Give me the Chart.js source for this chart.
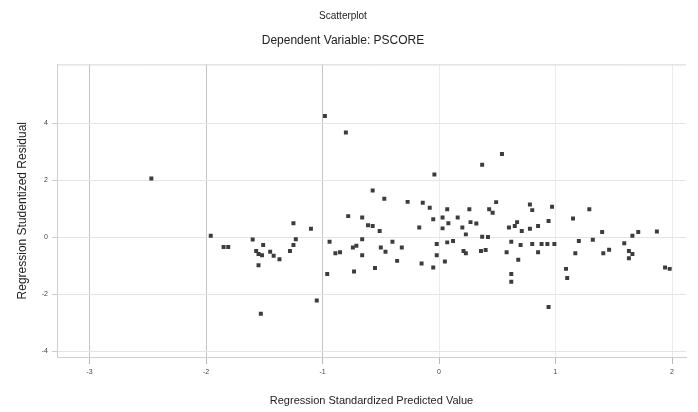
<!DOCTYPE html>
<html>
<head>
<meta charset="utf-8">
<script src="https://cdn.jsdelivr.net/npm/chart.js@4/dist/chart.umd.min.js"></script>
<style>
  html, body { margin: 0; padding: 0; background: #fff; }
</style>
</head>
<body>
<canvas id="scatter" width="698" height="412"></canvas>
<script>
// standardized predicted values (x) and studentized residuals (y)
var predicted = [
    -2.47, -1.96, -1.85, -1.81, -1.60, -1.51, -1.57, -1.55, -1.52, -1.45,
    -1.42, -1.37, -1.55, -1.53, -1.25, -1.23, -1.25, -1.28, -1.10, -1.05,
    -0.98, -0.80, -0.78, -0.94, -0.89, -0.85, -0.96, -0.74, -0.71, -0.66,
    -0.66, -0.73, -0.66, -0.61, -0.57, -0.51, -0.57, -0.55, -0.47, -0.50,
    -0.46, -0.40, -0.36, -0.32, -0.27, -0.17, -0.15, -0.14, -0.08, -0.05,
    -0.05, -0.02, -0.02, -0.04, 0.05, 0.03, 0.03, 0.07, 0.08, 0.07,
    0.12, 0.16, 0.20, 0.23, 0.21, 0.23, 0.26, 0.27, 0.32, 0.37,
    0.36, 0.40, 0.37, 0.42, 0.43, 0.46, 0.49, 0.54, 0.58, 0.60,
    0.65, 0.67, 0.62, 0.62, 0.62, 0.68, 0.70, 0.71, 0.78, 0.80,
    0.78, 0.80, 0.85, 0.85, 0.88, 0.94, 0.93, 0.99, 0.97, 0.94,
    1.09, 1.10, 1.15, 1.17, 1.20, 1.29, 1.32, 1.40, 1.41, 1.46,
    1.59, 1.66, 1.71, 1.63, 1.66, 1.63, 1.87, 1.94, 1.98
];
var residual = [
    2.06, 0.05, -0.34, -0.34, -0.08, -0.27, -0.48, -0.59, -0.63, -0.51,
    -0.65, -0.77, -0.98, -2.68, 0.49, -0.07, -0.27, -0.48, 0.30, -2.22,
    4.25, 3.67, 0.74, -0.16, -0.56, -0.53, -1.29, -0.36, -0.30, -0.07,
    -0.63, -1.20, 0.69, 0.42, 0.39, 0.22, 1.64, -1.08, 1.35, -0.36,
    -0.51, -0.16, -0.83, -0.36, 1.24, 0.34, -0.92, 1.21, 1.03, -1.06,
    0.63, -0.24, -0.63, 2.20, -0.85, 0.69, 0.31, 0.98, 0.49, -0.18,
    -0.13, 0.69, 0.34, 0.10, -0.48, -0.56, 0.98, 0.53, 0.48, 2.54,
    -0.48, -0.45, 0.02, 0.01, 0.98, 0.86, 1.23, 2.92, -0.53, 0.34,
    0.39, 0.53, -0.16, -1.29, -1.56, -0.79, -0.27, 0.22, 1.15, 0.95,
    0.30, -0.24, 0.39, -0.53, -0.24, 0.57, -0.24, -0.24, 1.07, -2.45,
    -1.11, -1.43, 0.66, -0.56, -0.13, 0.98, -0.09, 0.18, -0.56, -0.44,
    -0.21, 0.05, 0.18, -0.48, -0.59, -0.74, 0.20, -1.06, -1.11
];
var xTicks = [-3, -2, -1, 0, 1, 2];
var yTicks = [-4, -2, 0, 2, 4];

var points = predicted.map(function (v, i) {
    return { x: v, y: residual[i] };
});

// thin line along the top of the plot area
var topFrame = {
    id: 'topFrame',
    afterDraw: function (chart) {
        var a = chart.chartArea, c = chart.ctx;
        c.save();
        c.strokeStyle = '#d4d4d4';
        c.lineWidth = 1;
        c.beginPath();
        c.moveTo(a.left, a.top + 0.5);
        c.lineTo(a.right, a.top + 0.5);
        c.stroke();
        c.restore();
    }
};

var ctx = document.getElementById("scatter").getContext('2d');
new Chart(ctx, {
    type: "scatter",
    data: {
        datasets: [{
            data: points,
            pointStyle: 'rect',
            pointRadius: 2.8,
            backgroundColor: '#3c3c3c',
            borderColor: '#3c3c3c',
            borderWidth: 0
        }]
    },
    options: {
        responsive: false,
        animation: false,
        layout: { padding: { top: 10, right: 12, bottom: 4, left: 0 } },
        plugins: {
            legend: { display: false },
            tooltip: { enabled: false },
            title: {
                display: true,
                text: "Scatterplot",
                color: '#222',
                font: { family: 'Arial, Liberation Sans', size: 10, weight: 'normal' },
                padding: { top: 0, bottom: 11 }
            },
            subtitle: {
                display: true,
                text: "Dependent Variable: PSCORE",
                color: '#222',
                font: { family: 'Arial, Liberation Sans', size: 12 },
                padding: { top: 0, bottom: 17 }
            }
        },
        scales: {
            x: {
                type: 'linear',
                min: -3.28,
                max: 2.12,
                afterBuildTicks: function (s) {
                    s.ticks = xTicks.map(function (v) { return { value: v }; });
                },
                afterFit: function (s) { s.height = 51; },
                grid: {
                    color: function (c) { return c.tick && c.tick.value <= -1 ? '#c4c4c4' : '#ececec'; },
                    tickLength: 7,
                    tickColor: '#bbb'
                },
                border: { color: '#cfcfcf' },
                ticks: {
                    color: '#444',
                    font: { family: 'Arial, Liberation Sans', size: 7 },
                    padding: 4
                },
                title: {
                    display: true,
                    text: "Regression Standardized Predicted Value",
                    color: '#222',
                    font: { family: 'Arial, Liberation Sans', size: 11 },
                    padding: { top: 8, bottom: 0 }
                }
            },
            y: {
                type: 'linear',
                min: -4.2,
                max: 6.06,
                afterBuildTicks: function (s) {
                    s.ticks = yTicks.map(function (v) { return { value: v }; });
                },
                afterFit: function (s) { s.width = 57; },
                grid: {
                    color: '#e4e4e4',
                    tickLength: 5,
                    tickColor: '#ccc'
                },
                border: { color: '#cfcfcf' },
                ticks: {
                    color: '#444',
                    font: { family: 'Arial, Liberation Sans', size: 7 },
                    padding: 4
                },
                title: {
                    display: true,
                    text: "Regression Studentized Residual",
                    color: '#222',
                    font: { family: 'Arial, Liberation Sans', size: 12 },
                    padding: { top: 15, bottom: 4 }
                }
            }
        }
    },
    plugins: [topFrame]
});
</script>
</body>
</html>
